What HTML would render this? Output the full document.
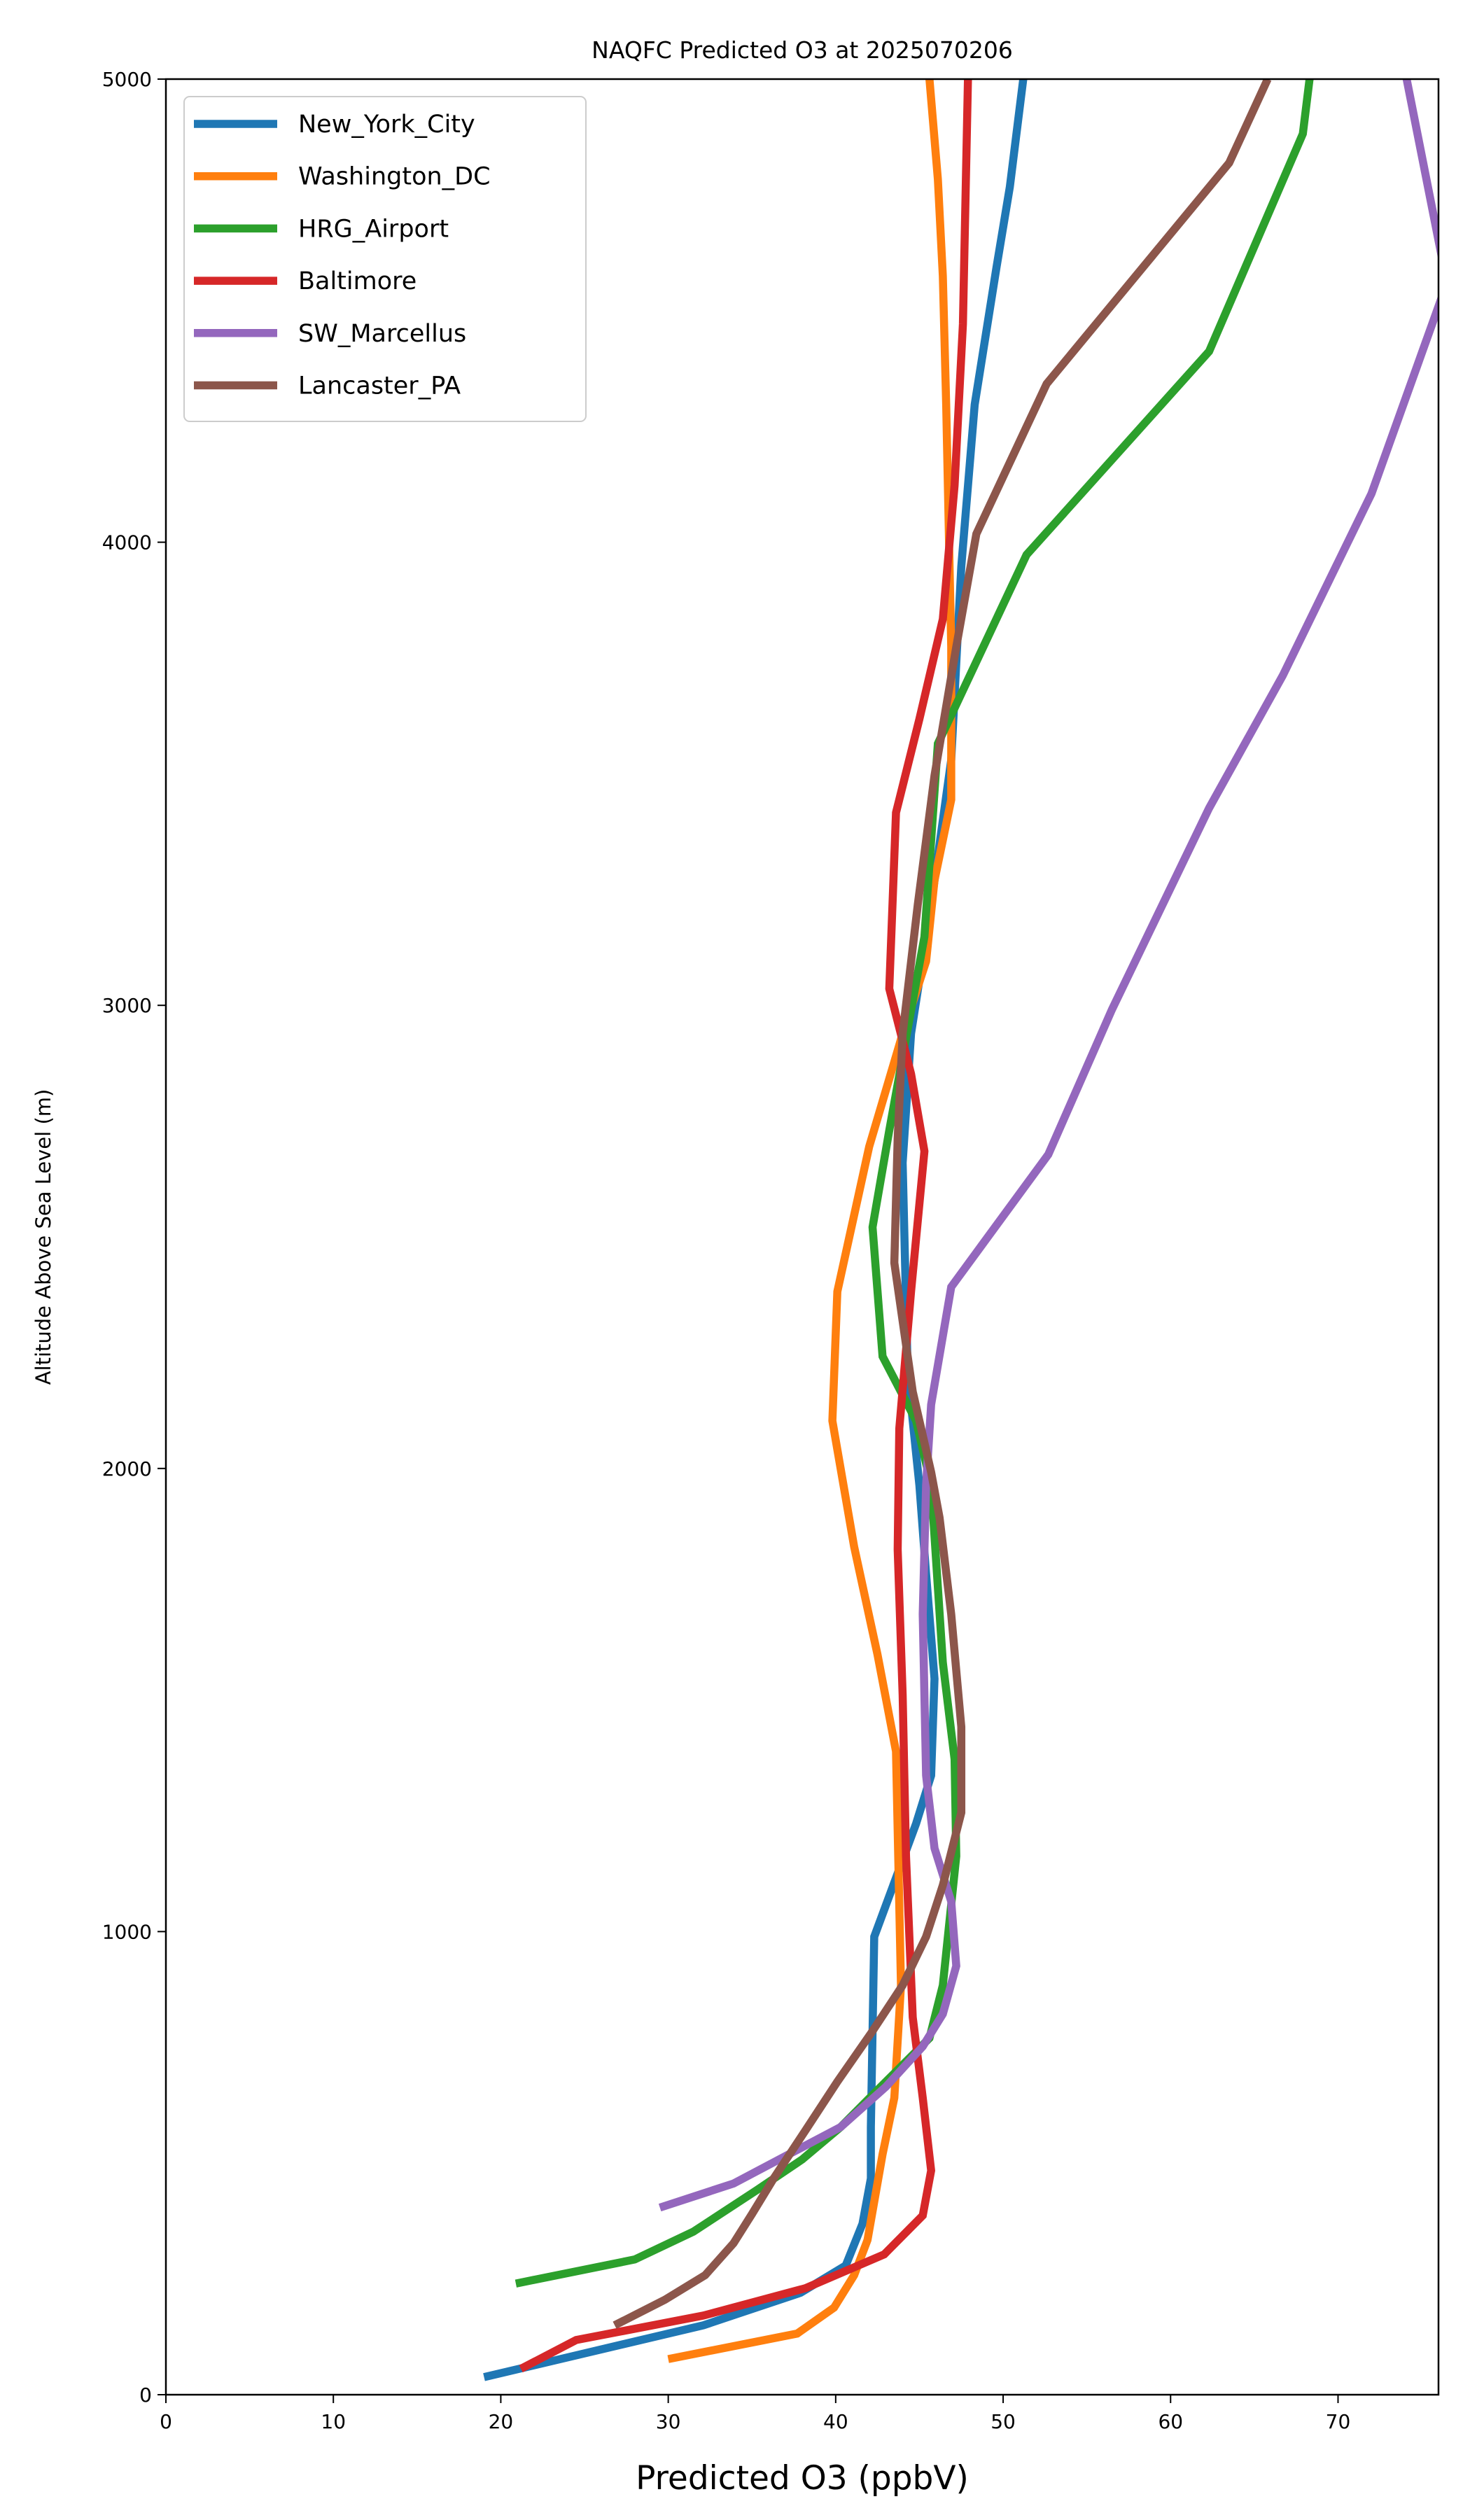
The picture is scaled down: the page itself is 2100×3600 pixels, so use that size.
<!DOCTYPE html>
<html><head><meta charset="utf-8"><style>
html,body{margin:0;padding:0;background:#fff;}
svg{display:block;font-family:"DejaVu Sans","Liberation Sans",sans-serif;}
</style></head><body>
<svg id="chart" width="2100" height="3600" viewBox="0 0 2100 3600" xmlns="http://www.w3.org/2000/svg">
<defs><clipPath id="plotclip"><rect x="237" y="113" width="1818" height="3308"/></clipPath></defs>
<rect width="2100" height="3600" fill="#fff"/>
<text x="1146" y="83" font-size="33" text-anchor="middle">NAQFC Predicted O3 at 2025070206</text>
<g id="series" clip-path="url(#plotclip)"></g>
<g id="axes"></g>
<g id="legend"></g>
<text x="1146" y="3556" font-size="47" text-anchor="middle">Predicted O3 (ppbV)</text>
<text x="0" y="0" font-size="29" text-anchor="middle" transform="translate(72,1767) rotate(-90)">Altitude Above Sea Level (m)</text>
</svg>
<script>
const seriesNames=["New_York_City","Washington_DC","HRG_Airport","Baltimore","SW_Marcellus","Lancaster_PA"];
const seriesColors=["#1f77b4","#ff7f0e","#2ca02c","#d62728","#9467bd","#8c564b"];
const nycO3=[19,32.1,37.9,40.6,41.6,42.1,42.1,42.3,44.8,45.7,45.9,45.4,45,44.3,44,44.5,45.7,46.9,47.5,48.3,49.6,50.4,51.2];
const nycAlt=[38,150,220,279,369,467,578,989,1233,1337,1546,1772,1964,2208,2660,2939,3217,3530,3948,4297,4593,4767,5000];
const dcO3=[30,37.7,39.9,41.1,41.9,42.8,43.5,43.9,43.6,42.5,41.1,39.8,40.1,42,44,45.4,45.9,46.9,46.9,46.6,46.4,46.1,45.6];
const dcAlt=[77,132,188,258,334,519,641,884,1389,1598,1831,2103,2382,2695,2939,3095,3270,3444,3774,4297,4575,4784,5000];
const hrgO3=[20.9,28,31.5,35.3,38,40.3,42.5,45.6,46.4,47.2,47.1,46.4,45.7,44.8,42.8,42.2,43.2,45.3,46.1,51.4,62.3,67.9,68.3];
const hrgAlt=[240,292,352,442,508,578,658,770,884,1163,1372,1581,1964,2103,2242,2521,2730,3148,3565,3973,4412,4882,5000];
const balO3=[21.2,24.5,32.1,38.2,42.9,45.2,45.7,45.2,44.6,44.2,44,43.7,43.8,44.5,45.3,44.5,43.2,43.6,45,46.4,47.1,47.6,47.9];
const balAlt=[56,118,171,230,303,387,484,641,815,1163,1511,1825,2086,2382,2685,2852,3036,3416,3618,3834,4123,4471,5000];
const swmO3=[29.5,33.9,37.2,40.3,43,45.2,46.4,47.2,46.9,45.9,45.4,45.2,45.4,45.7,46.9,52.7,56.5,62.3,66.7,72,76.5,74.1];
const swmAlt=[404,456,519,578,665,752,822,926,1065,1180,1337,1685,1964,2138,2392,2678,2991,3426,3712,4105,4560,5000];
const lanO3=[26.8,29.8,32.2,33.9,35,36.3,38.2,40.1,42.1,44,45.4,46.4,47.5,47.5,46.9,46.2,45.7,44.6,43.5,43.7,44,44.9,45.9,47.2,48.4,52.6,63.5,65.8];
const lanAlt=[150,205,258,327,390,467,571,676,780,884,989,1100,1257,1442,1685,1894,1992,2166,2444,2713,2939,3217,3496,3774,4018,4342,4819,5000];
const xTicks=[0,10,20,30,40,50,60,70];
const yTicks=[0,1000,2000,3000,4000,5000];
const X0=237,X1=2055,Y0=3421,Y1=113,XMAX=76,YMAX=5000;
function sx(v){return X0+(v/XMAX)*(X1-X0);}
function sy(v){return Y0-(v/YMAX)*(Y0-Y1);}
const NS="http://www.w3.org/2000/svg";
const allX=[nycO3,dcO3,hrgO3,balO3,swmO3,lanO3];
const allY=[nycAlt,dcAlt,hrgAlt,balAlt,swmAlt,lanAlt];
const sg=document.getElementById('series');
for(let i=0;i<6;i++){
  const p=document.createElementNS(NS,'polyline');
  p.setAttribute('points',allX[i].map((v,j)=>sx(v).toFixed(1)+','+sy(allY[i][j]).toFixed(1)).join(' '));
  p.setAttribute('fill','none');p.setAttribute('stroke',seriesColors[i]);
  p.setAttribute('stroke-width','11.5');p.setAttribute('stroke-linejoin','miter');
  
  
  sg.appendChild(p);
}
const ax=document.getElementById('axes');
const frame=document.createElementNS(NS,'rect');
frame.setAttribute('x',X0);frame.setAttribute('y',Y1);frame.setAttribute('width',X1-X0);frame.setAttribute('height',Y0-Y1);
frame.setAttribute('fill','none');frame.setAttribute('stroke','#000');frame.setAttribute('stroke-width','2.5');


ax.appendChild(frame);
xTicks.forEach(t=>{
  const l=document.createElementNS(NS,'line');
  l.setAttribute('x1',sx(t));l.setAttribute('x2',sx(t));l.setAttribute('y1',Y0);l.setAttribute('y2',Y0+12);
  l.setAttribute('stroke','#000');l.setAttribute('stroke-width','2');
  
  
  ax.appendChild(l);
  const tx=document.createElementNS(NS,'text');
  tx.setAttribute('x',sx(t));tx.setAttribute('y',Y0+48);tx.setAttribute('font-size','28');tx.setAttribute('text-anchor','middle');
  tx.textContent=t;
  
  
  ax.appendChild(tx);
});
yTicks.forEach(t=>{
  const l=document.createElementNS(NS,'line');
  l.setAttribute('x1',X0-12);l.setAttribute('x2',X0);l.setAttribute('y1',sy(t));l.setAttribute('y2',sy(t));
  l.setAttribute('stroke','#000');l.setAttribute('stroke-width','2');
  
  
  ax.appendChild(l);
  const tx=document.createElementNS(NS,'text');
  tx.setAttribute('x',X0-20);tx.setAttribute('y',sy(t)+10);tx.setAttribute('font-size','28');tx.setAttribute('text-anchor','end');
  tx.textContent=t;
  
  
  ax.appendChild(tx);
});
const lg=document.getElementById('legend');
const box=document.createElementNS(NS,'rect');
box.setAttribute('x',263);box.setAttribute('y',138);box.setAttribute('width',574);box.setAttribute('height',464);box.setAttribute('rx',8);
box.setAttribute('fill','#fff');box.setAttribute('fill-opacity','0.8');box.setAttribute('stroke','#ccc');box.setAttribute('stroke-width','2');


lg.appendChild(box);
seriesNames.forEach((n,i)=>{
  const y=177+i*74.7;
  const l=document.createElementNS(NS,'line');
  l.setAttribute('x1',277);l.setAttribute('x2',396);l.setAttribute('y1',y);l.setAttribute('y2',y);
  l.setAttribute('stroke',seriesColors[i]);l.setAttribute('stroke-width','11.5');
  
  
  lg.appendChild(l);
  const tx=document.createElementNS(NS,'text');
  tx.setAttribute('x',426);tx.setAttribute('y',y+12);tx.setAttribute('font-size','35');
  tx.textContent=n;
  
  
  lg.appendChild(tx);
});
</script>
</body></html>
